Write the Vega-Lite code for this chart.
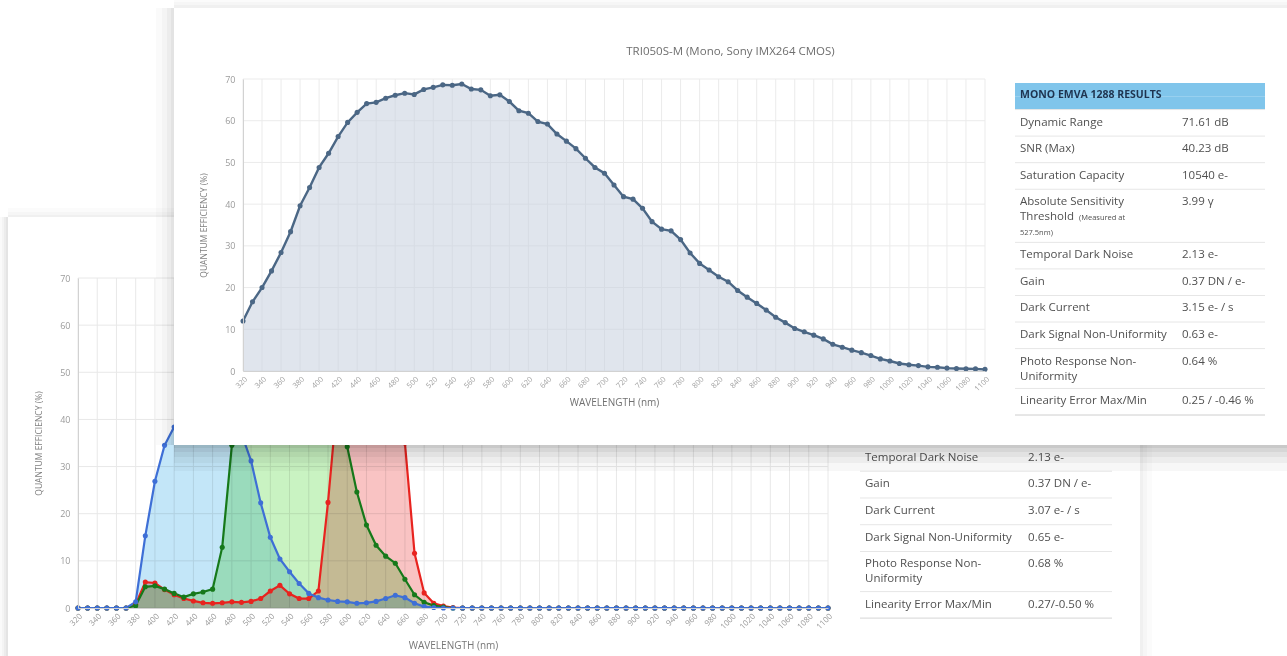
{
"$schema": "https://vega.github.io/schema/vega-lite/v6.json",
"width": 1287, "height": 656,
"autosize": {"type": "none"},
"padding": 0,
"background": "#ffffff",
"config": {"view": {"stroke": null}, "font": "Open Sans"},
"datasets": {
"mono": [{"nm":320,"qe":12.0},{"nm":330,"qe":16.6},{"nm":340,"qe":20.0},{"nm":350,"qe":24.0},{"nm":360,"qe":28.4},{"nm":370,"qe":33.4},{"nm":380,"qe":39.6},{"nm":390,"qe":44.0},{"nm":400,"qe":48.8},{"nm":410,"qe":52.2},{"nm":420,"qe":56.2},{"nm":430,"qe":59.6},{"nm":440,"qe":62.0},{"nm":450,"qe":64.1},{"nm":460,"qe":64.4},{"nm":470,"qe":65.4},{"nm":480,"qe":66.1},{"nm":490,"qe":66.6},{"nm":500,"qe":66.3},{"nm":510,"qe":67.5},{"nm":520,"qe":68.0},{"nm":530,"qe":68.6},{"nm":540,"qe":68.5},{"nm":550,"qe":68.8},{"nm":560,"qe":67.6},{"nm":570,"qe":67.4},{"nm":580,"qe":66.0},{"nm":590,"qe":66.2},{"nm":600,"qe":64.6},{"nm":610,"qe":62.4},{"nm":620,"qe":61.8},{"nm":630,"qe":59.8},{"nm":640,"qe":59.2},{"nm":650,"qe":56.8},{"nm":660,"qe":55.1},{"nm":670,"qe":53.3},{"nm":680,"qe":51.0},{"nm":690,"qe":48.8},{"nm":700,"qe":47.4},{"nm":710,"qe":44.6},{"nm":720,"qe":41.8},{"nm":730,"qe":41.2},{"nm":740,"qe":39.0},{"nm":750,"qe":35.8},{"nm":760,"qe":34.0},{"nm":770,"qe":33.6},{"nm":780,"qe":31.5},{"nm":790,"qe":28.3},{"nm":800,"qe":25.8},{"nm":810,"qe":24.2},{"nm":820,"qe":22.6},{"nm":830,"qe":21.4},{"nm":840,"qe":19.3},{"nm":850,"qe":17.7},{"nm":860,"qe":16.2},{"nm":870,"qe":14.6},{"nm":880,"qe":12.9},{"nm":890,"qe":11.6},{"nm":900,"qe":10.2},{"nm":910,"qe":9.4},{"nm":920,"qe":8.6},{"nm":930,"qe":7.7},{"nm":940,"qe":6.4},{"nm":950,"qe":5.7},{"nm":960,"qe":5.0},{"nm":970,"qe":4.4},{"nm":980,"qe":3.7},{"nm":990,"qe":2.9},{"nm":1000,"qe":2.4},{"nm":1010,"qe":1.8},{"nm":1020,"qe":1.5},{"nm":1030,"qe":1.3},{"nm":1040,"qe":1.0},{"nm":1050,"qe":0.9},{"nm":1060,"qe":0.7},{"nm":1070,"qe":0.6},{"nm":1080,"qe":0.55},{"nm":1090,"qe":0.5},{"nm":1100,"qe":0.4}],
"rgb": [{"nm":320,"Red":0,"Green":0,"Blue":0},{"nm":330,"Red":0,"Green":0,"Blue":0},{"nm":340,"Red":0,"Green":0,"Blue":0},{"nm":350,"Red":0,"Green":0,"Blue":0},{"nm":360,"Red":0,"Green":0,"Blue":0},{"nm":370,"Red":0,"Green":0,"Blue":0},{"nm":380,"Red":0.8,"Green":0.5,"Blue":1.3},{"nm":390,"Red":5.5,"Green":4.5,"Blue":15.3},{"nm":400,"Red":5.3,"Green":4.7,"Blue":26.9},{"nm":410,"Red":3.9,"Green":4.0,"Blue":34.5},{"nm":420,"Red":2.8,"Green":3.1,"Blue":38.4},{"nm":430,"Red":2.0,"Green":2.3,"Blue":41},{"nm":440,"Red":1.5,"Green":3.0,"Blue":43},{"nm":450,"Red":1.1,"Green":3.4,"Blue":44},{"nm":460,"Red":1.0,"Green":4.0,"Blue":44},{"nm":470,"Red":1.1,"Green":12.9,"Blue":43},{"nm":480,"Red":1.3,"Green":34.5,"Blue":41},{"nm":490,"Red":1.2,"Green":52,"Blue":37},{"nm":500,"Red":1.4,"Green":62,"Blue":31.2},{"nm":510,"Red":2.0,"Green":66,"Blue":22.3},{"nm":520,"Red":3.6,"Green":68,"Blue":15.0},{"nm":530,"Red":4.8,"Green":67,"Blue":10.4},{"nm":540,"Red":3.0,"Green":65,"Blue":7.7},{"nm":550,"Red":2.0,"Green":61,"Blue":5.2},{"nm":560,"Red":2.0,"Green":56,"Blue":3.1},{"nm":570,"Red":3.6,"Green":50,"Blue":2.2},{"nm":580,"Red":22.4,"Green":44,"Blue":1.7},{"nm":590,"Red":45,"Green":40,"Blue":1.4},{"nm":600,"Red":56,"Green":34.2,"Blue":1.3},{"nm":610,"Red":60,"Green":24.6,"Blue":1.0},{"nm":620,"Red":61,"Green":17.6,"Blue":1.1},{"nm":630,"Red":60,"Green":13.3,"Blue":1.4},{"nm":640,"Red":57,"Green":11.0,"Blue":2.0},{"nm":650,"Red":50,"Green":9.5,"Blue":2.7},{"nm":660,"Red":35,"Green":6.1,"Blue":2.2},{"nm":670,"Red":11.6,"Green":2.8,"Blue":1.0},{"nm":680,"Red":3.2,"Green":1.2,"Blue":0.3},{"nm":690,"Red":1.0,"Green":0.5,"Blue":0.1},{"nm":700,"Red":0.4,"Green":0.2,"Blue":0},{"nm":710,"Red":0.1,"Green":0,"Blue":0},{"nm":720,"Red":0,"Green":0,"Blue":0},{"nm":730,"Red":0,"Green":0,"Blue":0},{"nm":740,"Red":0,"Green":0,"Blue":0},{"nm":750,"Red":0,"Green":0,"Blue":0},{"nm":760,"Red":0,"Green":0,"Blue":0},{"nm":770,"Red":0,"Green":0,"Blue":0},{"nm":780,"Red":0,"Green":0,"Blue":0},{"nm":790,"Red":0,"Green":0,"Blue":0},{"nm":800,"Red":0,"Green":0,"Blue":0},{"nm":810,"Red":0,"Green":0,"Blue":0},{"nm":820,"Red":0,"Green":0,"Blue":0},{"nm":830,"Red":0,"Green":0,"Blue":0},{"nm":840,"Red":0,"Green":0,"Blue":0},{"nm":850,"Red":0,"Green":0,"Blue":0},{"nm":860,"Red":0,"Green":0,"Blue":0},{"nm":870,"Red":0,"Green":0,"Blue":0},{"nm":880,"Red":0,"Green":0,"Blue":0},{"nm":890,"Red":0,"Green":0,"Blue":0},{"nm":900,"Red":0,"Green":0,"Blue":0},{"nm":910,"Red":0,"Green":0,"Blue":0},{"nm":920,"Red":0,"Green":0,"Blue":0},{"nm":930,"Red":0,"Green":0,"Blue":0},{"nm":940,"Red":0,"Green":0,"Blue":0},{"nm":950,"Red":0,"Green":0,"Blue":0},{"nm":960,"Red":0,"Green":0,"Blue":0},{"nm":970,"Red":0,"Green":0,"Blue":0},{"nm":980,"Red":0,"Green":0,"Blue":0},{"nm":990,"Red":0,"Green":0,"Blue":0},{"nm":1000,"Red":0,"Green":0,"Blue":0},{"nm":1010,"Red":0,"Green":0,"Blue":0},{"nm":1020,"Red":0,"Green":0,"Blue":0},{"nm":1030,"Red":0,"Green":0,"Blue":0},{"nm":1040,"Red":0,"Green":0,"Blue":0},{"nm":1050,"Red":0,"Green":0,"Blue":0},{"nm":1060,"Red":0,"Green":0,"Blue":0},{"nm":1070,"Red":0,"Green":0,"Blue":0},{"nm":1080,"Red":0,"Green":0,"Blue":0},{"nm":1090,"Red":0,"Green":0,"Blue":0},{"nm":1100,"Red":0,"Green":0,"Blue":0}],
"gx": [{"g":320},{"g":340},{"g":360},{"g":380},{"g":400},{"g":420},{"g":440},{"g":460},{"g":480},{"g":500},{"g":520},{"g":540},{"g":560},{"g":580},{"g":600},{"g":620},{"g":640},{"g":660},{"g":680},{"g":700},{"g":720},{"g":740},{"g":760},{"g":780},{"g":800},{"g":820},{"g":840},{"g":860},{"g":880},{"g":900},{"g":920},{"g":940},{"g":960},{"g":980},{"g":1000},{"g":1020},{"g":1040},{"g":1060},{"g":1080},{"g":1100}],
"gy": [{"g":0},{"g":10},{"g":20},{"g":30},{"g":40},{"g":50},{"g":60},{"g":70}],
"frontTable": [{"key":"Dynamic Range","value":"71.61 dB"},{"key":"SNR (Max)","value":"40.23 dB"},{"key":"Saturation Capacity","value":"10540 e-"},{"key":"Absolute Sensitivity\nThreshold","value":"3.99 γ","note":"(Measured at","note2":"527.5nm)"},{"key":"Temporal Dark Noise","value":"2.13 e-"},{"key":"Gain","value":"0.37 DN / e-"},{"key":"Dark Current","value":"3.15 e- / s"},{"key":"Dark Signal Non-Uniformity","value":"0.63 e-"},{"key":"Photo Response Non-\nUniformity","value":"0.64 %"},{"key":"Linearity Error Max/Min","value":"0.25 / -0.46 %"}],
"backTable": [{"key":"Temporal Dark Noise","value":"2.13 e-"},{"key":"Gain","value":"0.37 DN / e-"},{"key":"Dark Current","value":"3.07 e- / s"},{"key":"Dark Signal Non-Uniformity","value":"0.65 e-"},{"key":"Photo Response Non-\nUniformity","value":"0.68 %"},{"key":"Linearity Error Max/Min","value":"0.27/-0.50 %"}]
},
"resolve": {"scale": {"x": "independent", "y": "independent"}},
"layer": [
{
 "data": {"values": [{"card": "back"}]},
 "encoding": {
  "x": {"datum": 0, "scale": {"domain": [0, 1], "range": [8, 1140], "nice": false, "zero": false}, "axis": null},
  "y": {"datum": 0, "scale": {"domain": [0, 1], "range": [217, 656], "nice": false, "zero": false}, "axis": null}
 },
 "layer": [
  {"mark": {"type": "rect", "color": "#000000", "opacity": 0.03, "xOffset": -2}, "encoding": {"x2": {"datum": 0}, "y2": {"datum": 1}}},
  {"mark": {"type": "rect", "color": "#000000", "opacity": 0.03, "xOffset": -4}, "encoding": {"x2": {"datum": 0}, "y2": {"datum": 1}}},
  {"mark": {"type": "rect", "color": "#000000", "opacity": 0.025, "xOffset": -6}, "encoding": {"x2": {"datum": 0}, "y2": {"datum": 1}}},
  {"mark": {"type": "rect", "color": "#000000", "opacity": 0.02, "xOffset": -8}, "encoding": {"x2": {"datum": 0}, "y2": {"datum": 1}}},
  {"mark": {"type": "rect", "color": "#000000", "opacity": 0.025, "yOffset": -2}, "encoding": {"x2": {"datum": 1}, "y2": {"datum": 0}}},
  {"mark": {"type": "rect", "color": "#000000", "opacity": 0.02, "yOffset": -5}, "encoding": {"x2": {"datum": 1}, "y2": {"datum": 0}}},
  {"mark": {"type": "rect", "color": "#000000", "opacity": 0.015, "yOffset": -9}, "encoding": {"x2": {"datum": 1}, "y2": {"datum": 0}}},
  {"mark": {"type": "rect", "color": "#000000", "opacity": 0.025, "xOffset": 3}, "encoding": {"x": {"datum": 1}, "x2": {"datum": 1}, "y2": {"datum": 1}}},
  {"mark": {"type": "rect", "color": "#000000", "opacity": 0.02, "xOffset": 7}, "encoding": {"x": {"datum": 1}, "x2": {"datum": 1}, "y2": {"datum": 1}}},
  {"mark": {"type": "rect", "color": "#000000", "opacity": 0.015, "xOffset": 12}, "encoding": {"x": {"datum": 1}, "x2": {"datum": 1}, "y2": {"datum": 1}}}
 ]
},
{
 "layer": [
  {"data": {"name": "gx"}, "mark": {"type": "rule", "color": "#e8e8e8", "strokeWidth": 1},
   "encoding": {
    "x": {"field": "g", "type": "quantitative", "scale": {"domain": [320, 1100], "range": [78, 828], "nice": false, "zero": false}},
    "y": {"datum": 0, "scale": {"domain": [0, 70], "range": [608, 278], "nice": false, "zero": false}},
    "y2": {"datum": 70}}},
  {"data": {"name": "gy"}, "mark": {"type": "rule", "color": "#e8e8e8", "strokeWidth": 1},
   "encoding": {
    "y": {"field": "g", "type": "quantitative", "scale": {"domain": [0, 70], "range": [608, 278], "nice": false, "zero": false}},
    "x": {"datum": 320, "scale": {"domain": [320, 1100], "range": [78, 828], "nice": false, "zero": false}},
    "x2": {"datum": 1100}}},
  {"data": {"name": "rgb"}, "transform": [{"fold": ["Red", "Green", "Blue"], "as": ["ch", "qe"]}],
   "mark": {"type": "area", "blend": "multiply", "opacity": 1},
   "encoding": {
    "x": {"field": "nm", "type": "quantitative", "scale": {"domain": [320, 1100], "range": [78, 828], "nice": false, "zero": false},
      "axis": {"orient": "bottom", "offset": -48, "tickCount": 40, "format": "d", "labelAngle": -45, "labelFontSize": 8, "labelColor": "#9b9b9b", "labelPadding": 4, "labelFlush": false, "labelOverlap": false, "ticks": false, "domainColor": "#d2d2d2", "grid": false, "title": "WAVELENGTH (nm)", "titleFontSize": 10, "titleFontWeight": "normal", "titleColor": "#777777", "titlePadding": 10, "zindex": 1}},
    "y": {"field": "qe", "type": "quantitative", "stack": null, "scale": {"domain": [0, 70], "range": [608, 278], "nice": false, "zero": false},
      "axis": {"orient": "left", "offset": -78, "tickCount": 7, "labelFontSize": 9, "labelColor": "#9b9b9b", "labelPadding": 8, "ticks": false, "domainColor": "#d2d2d2", "grid": false, "title": "QUANTUM EFFICIENCY (%)", "titleFontSize": 8.5, "titleFontWeight": "normal", "titleColor": "#808080", "titlePadding": 16, "zindex": 1}},
    "fill": {"field": "ch", "type": "nominal", "scale": {"domain": ["Red", "Green", "Blue"], "range": ["#f9c3c3", "#c9f3c2", "#c3e6f8"]}, "legend": null}}},
  {"data": {"name": "rgb"}, "transform": [{"fold": ["Red", "Green", "Blue"], "as": ["ch", "qe"]}],
   "mark": {"type": "line", "strokeWidth": 2.2},
   "encoding": {
    "x": {"field": "nm", "type": "quantitative"},
    "y": {"field": "qe", "type": "quantitative", "stack": null},
    "stroke": {"field": "ch", "type": "nominal", "scale": {"domain": ["Red", "Green", "Blue"], "range": ["#e8231f", "#16791a", "#3e6fd6"]}, "legend": null}}},
  {"data": {"name": "rgb"}, "transform": [{"fold": ["Red", "Green", "Blue"], "as": ["ch", "qe"]}],
   "mark": {"type": "point", "filled": true, "size": 26, "opacity": 1},
   "encoding": {
    "x": {"field": "nm", "type": "quantitative"},
    "y": {"field": "qe", "type": "quantitative", "stack": null},
    "color": {"field": "ch", "type": "nominal", "scale": {"domain": ["Red", "Green", "Blue"], "range": ["#e8231f", "#16791a", "#3e6fd6"]}, "legend": null}}}
 ]
},
{
 "data": {"name": "backTable"},
 "encoding": {
  "y": {"field": "key", "type": "nominal", "bandPosition": 0, "scale": {"type": "band", "domain": ["Temporal Dark Noise", "_5", "Gain", "_6", "Dark Current", "_7", "Dark Signal Non-Uniformity", "_8", "Photo Response Non-\nUniformity", "_9a", "_9b", "Linearity Error Max/Min", "_10", "_end"], "range": [444.5, 631.7], "paddingInner": 0, "paddingOuter": 0}, "axis": null}
 },
 "layer": [
  {"mark": {"type": "rule", "color": "#e6e6e6", "strokeWidth": 1},
   "encoding": {"x": {"datum": 0, "scale": {"domain": [0, 1], "range": [860, 1112], "nice": false, "zero": false}, "axis": null}, "x2": {"datum": 1}}},
  {"mark": {"type": "rule", "color": "#e6e6e6", "strokeWidth": 1},
   "encoding": {"y": {"datum": "_end", "bandPosition": 0, "axis": null}, "x": {"datum": 0, "axis": null}, "x2": {"datum": 1}}},
  {"mark": {"type": "text", "align": "left", "baseline": "top", "dx": 5, "dy": 7, "fontSize": 11.5, "color": "#505050", "lineBreak": "\n", "lineHeight": 15},
   "encoding": {"x": {"datum": 0, "axis": null}, "text": {"field": "key"}}},
  {"mark": {"type": "text", "align": "left", "baseline": "top", "dx": 0, "dy": 7, "fontSize": 11.5, "color": "#505050"},
   "encoding": {"x": {"datum": 0.667, "axis": null}, "text": {"field": "value"}}}
 ]
},
{
 "data": {"values": [{"title": "TRI050S-M (Mono, Sony IMX264 CMOS)"}]},
 "encoding": {
  "x": {"datum": 0, "scale": {"domain": [0, 1], "range": [174, 1287], "nice": false, "zero": false}, "axis": null},
  "y": {"datum": 0, "scale": {"domain": [0, 1], "range": [8, 445], "nice": false, "zero": false}, "axis": null}
 },
 "layer": [
  {"mark": {"type": "rect", "color": "#000000", "opacity": 0.06, "y2Offset": 3}, "encoding": {"y": {"datum": 1}, "x2": {"datum": 1}, "y2": {"datum": 1}}},
  {"mark": {"type": "rect", "color": "#000000", "opacity": 0.05, "y2Offset": 7}, "encoding": {"y": {"datum": 1}, "x2": {"datum": 1}, "y2": {"datum": 1}}},
  {"mark": {"type": "rect", "color": "#000000", "opacity": 0.045, "y2Offset": 12}, "encoding": {"y": {"datum": 1}, "x2": {"datum": 1}, "y2": {"datum": 1}}},
  {"mark": {"type": "rect", "color": "#000000", "opacity": 0.04, "y2Offset": 18}, "encoding": {"y": {"datum": 1}, "x2": {"datum": 1}, "y2": {"datum": 1}}},
  {"mark": {"type": "rect", "color": "#000000", "opacity": 0.03, "y2Offset": 26}, "encoding": {"y": {"datum": 1}, "x2": {"datum": 1}, "y2": {"datum": 1}}},
  {"mark": {"type": "rect", "color": "#000000", "opacity": 0.035, "xOffset": -3}, "encoding": {"x2": {"datum": 0}, "y2": {"datum": 1}}},
  {"mark": {"type": "rect", "color": "#000000", "opacity": 0.03, "xOffset": -7}, "encoding": {"x2": {"datum": 0}, "y2": {"datum": 1}}},
  {"mark": {"type": "rect", "color": "#000000", "opacity": 0.025, "xOffset": -12}, "encoding": {"x2": {"datum": 0}, "y2": {"datum": 1}}},
  {"mark": {"type": "rect", "color": "#000000", "opacity": 0.02, "xOffset": -18}, "encoding": {"x2": {"datum": 0}, "y2": {"datum": 1}}},
  {"mark": {"type": "rect", "color": "#000000", "opacity": 0.025, "yOffset": -3}, "encoding": {"x2": {"datum": 1}, "y2": {"datum": 0}}},
  {"mark": {"type": "rect", "color": "#000000", "opacity": 0.02, "yOffset": -6}, "encoding": {"x2": {"datum": 1}, "y2": {"datum": 0}}},
  {"mark": {"type": "rect", "color": "#000000", "opacity": 0.015, "yOffset": -8}, "encoding": {"x2": {"datum": 1}, "y2": {"datum": 0}}},
  {"mark": {"type": "rect", "fill": "#ffffff"}, "encoding": {"x2": {"datum": 1}, "y2": {"datum": 1}}},
  {"mark": {"type": "text", "fontSize": 11.5, "color": "#6e6e6e", "align": "center", "baseline": "middle"},
   "encoding": {"x": {"datum": 0.5}, "y": {"datum": 0.1}, "text": {"field": "title"}}}
 ]
},
{
 "layer": [
  {"data": {"name": "gx"}, "mark": {"type": "rule", "color": "#ebebeb", "strokeWidth": 1},
   "encoding": {
    "x": {"field": "g", "type": "quantitative", "scale": {"domain": [320, 1100], "range": [243, 985], "nice": false, "zero": false}},
    "y": {"datum": 0, "scale": {"domain": [0, 70], "range": [371, 79], "nice": false, "zero": false}},
    "y2": {"datum": 70}}},
  {"data": {"name": "gy"}, "mark": {"type": "rule", "color": "#ebebeb", "strokeWidth": 1},
   "encoding": {
    "y": {"field": "g", "type": "quantitative", "scale": {"domain": [0, 70], "range": [371, 79], "nice": false, "zero": false}},
    "x": {"datum": 320, "scale": {"domain": [320, 1100], "range": [243, 985], "nice": false, "zero": false}},
    "x2": {"datum": 1100}}},
  {"data": {"name": "mono"}, "mark": {"type": "area", "fill": "#c6d0df", "opacity": 0.55},
   "encoding": {
    "x": {"field": "nm", "type": "quantitative", "scale": {"domain": [320, 1100], "range": [243, 985], "nice": false, "zero": false},
      "axis": {"orient": "bottom", "offset": -285, "tickCount": 40, "format": "d", "labelAngle": -45, "labelFontSize": 7.5, "labelColor": "#a0a0a0", "labelPadding": 4, "labelFlush": false, "labelOverlap": false, "ticks": false, "domainColor": "#d2d2d2", "grid": false, "title": "WAVELENGTH (nm)", "titleFontSize": 10, "titleFontWeight": "normal", "titleColor": "#707070", "titlePadding": 5, "zindex": 1}},
    "y": {"field": "qe", "type": "quantitative", "scale": {"domain": [0, 70], "range": [371, 79], "nice": false, "zero": false},
      "axis": {"orient": "left", "offset": -243, "tickCount": 7, "labelFontSize": 9, "labelColor": "#9b9b9b", "labelPadding": 8, "ticks": false, "domainColor": "#d2d2d2", "grid": false, "title": "QUANTUM EFFICIENCY (%)", "titleFontSize": 8.5, "titleFontWeight": "normal", "titleColor": "#808080", "titlePadding": 16, "zindex": 1}}}},
  {"data": {"name": "mono"}, "mark": {"type": "line", "color": "#4b6785", "strokeWidth": 2.4},
   "encoding": {"x": {"field": "nm", "type": "quantitative"}, "y": {"field": "qe", "type": "quantitative"}}},
  {"data": {"name": "mono"}, "mark": {"type": "point", "filled": true, "color": "#4b6785", "size": 26, "opacity": 1},
   "encoding": {"x": {"field": "nm", "type": "quantitative"}, "y": {"field": "qe", "type": "quantitative"}}}
 ]
},
{
 "data": {"name": "frontTable"},
 "encoding": {
  "y": {"field": "key", "type": "nominal", "bandPosition": 0, "scale": {"type": "band", "domain": ["MONO EMVA 1288 RESULTS", "_h", "Dynamic Range", "_1", "SNR (Max)", "_2", "Saturation Capacity", "_3", "Absolute Sensitivity\nThreshold", "_4a", "_4b", "_4c", "Temporal Dark Noise", "_5", "Gain", "_6", "Dark Current", "_7", "Dark Signal Non-Uniformity", "_8", "Photo Response Non-\nUniformity", "_9a", "_9b", "Linearity Error Max/Min", "_10", "_end"], "range": [83, 428.28], "paddingInner": 0, "paddingOuter": 0}, "axis": null}
 },
 "layer": [
  {"data": {"values": [{"title": "MONO EMVA 1288 RESULTS"}]},
   "layer": [
    {"mark": {"type": "rect", "fill": "#80c5eb"},
     "encoding": {"y": {"field": "title", "type": "nominal", "axis": null}, "x": {"datum": 0, "scale": {"domain": [0, 1], "range": [1015, 1265], "nice": false, "zero": false}, "axis": null}, "x2": {"datum": 1}}},
    {"mark": {"type": "rect", "fill": "#80c5eb"},
     "encoding": {"y": {"datum": "_h", "axis": null}, "x": {"datum": 0, "axis": null}, "x2": {"datum": 1}}},
    {"mark": {"type": "text", "align": "left", "baseline": "top", "dx": 5, "dy": 7, "fontSize": 10.5, "fontWeight": "bold", "color": "#1e3450"},
     "encoding": {"y": {"field": "title", "type": "nominal", "bandPosition": 0, "axis": null}, "x": {"datum": 0, "axis": null}, "text": {"field": "title"}}}
   ]},
  {"mark": {"type": "rule", "color": "#e6e6e6", "strokeWidth": 1},
   "encoding": {"x": {"datum": 0, "axis": null}, "x2": {"datum": 1}}},
  {"mark": {"type": "rule", "color": "#e6e6e6", "strokeWidth": 1},
   "encoding": {"y": {"datum": "_end", "bandPosition": 0, "axis": null}, "x": {"datum": 0, "axis": null}, "x2": {"datum": 1}}},
  {"mark": {"type": "text", "align": "left", "baseline": "top", "dx": 5, "dy": 7, "fontSize": 11.5, "color": "#505050", "lineBreak": "\n", "lineHeight": 15},
   "encoding": {"x": {"datum": 0, "axis": null}, "text": {"field": "key"}}},
  {"mark": {"type": "text", "align": "left", "baseline": "top", "dx": 0, "dy": 7, "fontSize": 11.5, "color": "#505050"},
   "encoding": {"x": {"datum": 0.668, "axis": null}, "text": {"field": "value"}}},
  {"transform": [{"filter": "datum.note"}],
   "mark": {"type": "text", "align": "left", "baseline": "top", "dx": 64, "dy": 25, "fontSize": 7.5, "color": "#505050"},
   "encoding": {"x": {"datum": 0, "axis": null}, "text": {"field": "note"}}},
  {"transform": [{"filter": "datum.note2"}],
   "mark": {"type": "text", "align": "left", "baseline": "top", "dx": 5, "dy": 40, "fontSize": 7.5, "color": "#505050"},
   "encoding": {"x": {"datum": 0, "axis": null}, "text": {"field": "note2"}}}
 ]
}
]
}
